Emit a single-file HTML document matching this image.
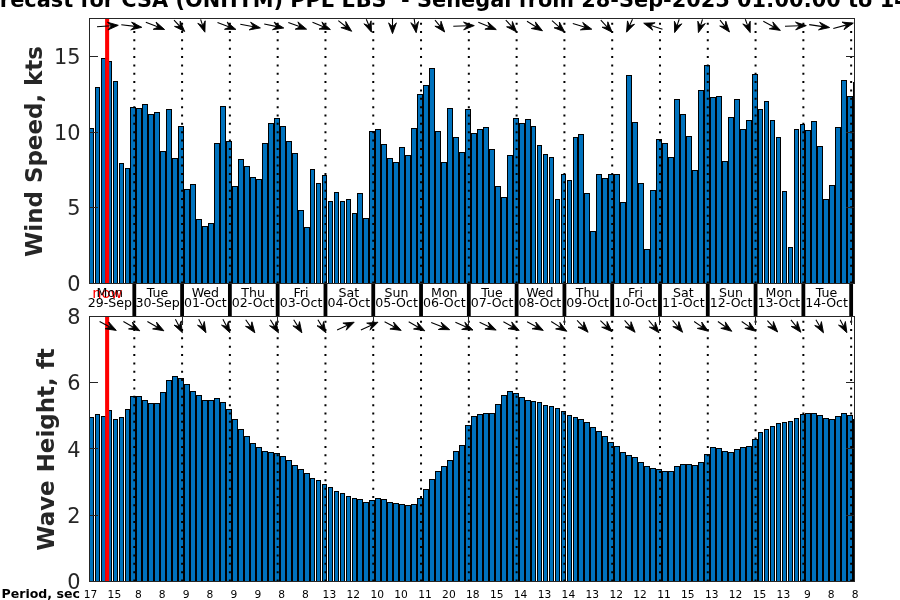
<!DOCTYPE html>
<html><head><meta charset="utf-8"><title>Forecast</title>
<style>html,body{margin:0;padding:0;background:#fff;overflow:hidden}svg{display:block}text{font-family:"DejaVu Sans","Liberation Sans",sans-serif}</style>
</head><body>
<svg width="900" height="600" viewBox="0 0 900 600">
<rect x="0" y="0" width="900" height="600" fill="#fff"/>
<defs><clipPath id="c1"><rect x="89" y="18" width="766" height="266"/></clipPath><clipPath id="c2"><rect x="89" y="316" width="766" height="266"/></clipPath></defs>
<text id="title" x="-27.9" y="6.9" font-size="20.87" font-weight="bold" fill="#000" style="white-space:pre">Forecast for CSA (ONHYM) PPL EBS  - Senegal from 28-Sep-2025 01:00:00 to 14-Oct-2025 01:00:00</text>
<g shape-rendering="crispEdges" clip-path="url(#c1)">
<path fill="#000" d="M89 128h5v155h-5zM95 87h5v196h-5zM101 58h5v225h-5zM107 61h5v222h-5zM113 81h5v202h-5zM119 163h5v120h-5zM125 168h5v115h-5zM130 107h6v176h-6zM136 108h6v175h-6zM142 104h6v179h-6zM148 114h6v169h-6zM154 112h6v171h-6zM160 151h6v132h-6zM166 109h6v174h-6zM172 158h6v125h-6zM178 126h6v157h-6zM184 189h6v94h-6zM190 184h6v99h-6zM196 219h6v64h-6zM202 226h6v57h-6zM208 223h6v60h-6zM214 143h6v140h-6zM220 106h6v177h-6zM226 141h6v142h-6zM232 186h6v97h-6zM238 159h6v124h-6zM244 166h6v117h-6zM250 177h6v106h-6zM256 179h6v104h-6zM262 143h6v140h-6zM268 123h6v160h-6zM274 118h6v165h-6zM280 126h6v157h-6zM286 141h6v142h-6zM292 153h6v130h-6zM298 210h6v73h-6zM304 227h6v56h-6zM310 169h5v114h-5zM316 183h5v100h-5zM322 175h5v108h-5zM328 201h5v82h-5zM334 192h5v91h-5zM340 201h5v82h-5zM346 199h5v84h-5zM352 213h5v70h-5zM357 193h6v90h-6zM363 218h6v65h-6zM369 131h6v152h-6zM375 129h6v154h-6zM381 144h6v139h-6zM387 158h6v125h-6zM393 162h6v121h-6zM399 147h6v136h-6zM405 155h6v128h-6zM411 128h6v155h-6zM417 94h6v189h-6zM423 85h6v198h-6zM429 68h6v215h-6zM435 131h6v152h-6zM441 162h6v121h-6zM447 108h6v175h-6zM453 137h6v146h-6zM459 152h6v131h-6zM465 109h6v174h-6zM471 133h6v150h-6zM477 129h6v154h-6zM483 127h6v156h-6zM489 149h6v134h-6zM495 186h6v97h-6zM501 197h6v86h-6zM507 155h6v128h-6zM513 118h6v165h-6zM519 123h6v160h-6zM525 119h6v164h-6zM531 126h5v157h-5zM537 145h5v138h-5zM543 154h5v129h-5zM549 157h5v126h-5zM555 199h5v84h-5zM561 174h5v109h-5zM567 180h5v103h-5zM573 137h5v146h-5zM578 134h6v149h-6zM584 193h6v90h-6zM590 231h6v52h-6zM596 174h6v109h-6zM602 178h6v105h-6zM608 174h6v109h-6zM614 174h6v109h-6zM620 202h6v81h-6zM626 75h6v208h-6zM632 122h6v161h-6zM638 183h6v100h-6zM644 249h6v34h-6zM650 190h6v93h-6zM656 139h6v144h-6zM662 143h6v140h-6zM668 157h6v126h-6zM674 99h6v184h-6zM680 114h6v169h-6zM686 136h6v147h-6zM692 170h6v113h-6zM698 90h6v193h-6zM704 65h6v218h-6zM710 97h6v186h-6zM716 96h6v187h-6zM722 161h6v122h-6zM728 117h6v166h-6zM734 99h6v184h-6zM740 129h6v154h-6zM746 120h6v163h-6zM752 74h6v209h-6zM758 109h5v174h-5zM764 101h5v182h-5zM770 120h5v163h-5zM776 137h5v146h-5zM782 191h5v92h-5zM788 247h5v36h-5zM794 129h5v154h-5zM800 124h5v159h-5zM805 130h6v153h-6zM811 121h6v162h-6zM817 146h6v137h-6zM823 199h6v84h-6zM829 185h6v98h-6zM835 127h6v156h-6zM841 80h6v203h-6zM847 96h6v187h-6zM853 82h6v201h-6z"/>
<path fill="#0072bd" d="M90 129h3v154h-3zM96 88h3v195h-3zM102 59h3v224h-3zM108 62h3v221h-3zM114 82h3v201h-3zM120 164h3v119h-3zM126 169h3v114h-3zM131 108h4v175h-4zM137 109h4v174h-4zM143 105h4v178h-4zM149 115h4v168h-4zM155 113h4v170h-4zM161 152h4v131h-4zM167 110h4v173h-4zM173 159h4v124h-4zM179 127h4v156h-4zM185 190h4v93h-4zM191 185h4v98h-4zM197 220h4v63h-4zM203 227h4v56h-4zM209 224h4v59h-4zM215 144h4v139h-4zM221 107h4v176h-4zM227 142h4v141h-4zM233 187h4v96h-4zM239 160h4v123h-4zM245 167h4v116h-4zM251 178h4v105h-4zM257 180h4v103h-4zM263 144h4v139h-4zM269 124h4v159h-4zM275 119h4v164h-4zM281 127h4v156h-4zM287 142h4v141h-4zM293 154h4v129h-4zM299 211h4v72h-4zM305 228h4v55h-4zM311 170h3v113h-3zM317 184h3v99h-3zM323 176h3v107h-3zM329 202h3v81h-3zM335 193h3v90h-3zM341 202h3v81h-3zM347 200h3v83h-3zM353 214h3v69h-3zM358 194h4v89h-4zM364 219h4v64h-4zM370 132h4v151h-4zM376 130h4v153h-4zM382 145h4v138h-4zM388 159h4v124h-4zM394 163h4v120h-4zM400 148h4v135h-4zM406 156h4v127h-4zM412 129h4v154h-4zM418 95h4v188h-4zM424 86h4v197h-4zM430 69h4v214h-4zM436 132h4v151h-4zM442 163h4v120h-4zM448 109h4v174h-4zM454 138h4v145h-4zM460 153h4v130h-4zM466 110h4v173h-4zM472 134h4v149h-4zM478 130h4v153h-4zM484 128h4v155h-4zM490 150h4v133h-4zM496 187h4v96h-4zM502 198h4v85h-4zM508 156h4v127h-4zM514 119h4v164h-4zM520 124h4v159h-4zM526 120h4v163h-4zM532 127h3v156h-3zM538 146h3v137h-3zM544 155h3v128h-3zM550 158h3v125h-3zM556 200h3v83h-3zM562 175h3v108h-3zM568 181h3v102h-3zM574 138h3v145h-3zM579 135h4v148h-4zM585 194h4v89h-4zM591 232h4v51h-4zM597 175h4v108h-4zM603 179h4v104h-4zM609 175h4v108h-4zM615 175h4v108h-4zM621 203h4v80h-4zM627 76h4v207h-4zM633 123h4v160h-4zM639 184h4v99h-4zM645 250h4v33h-4zM651 191h4v92h-4zM657 140h4v143h-4zM663 144h4v139h-4zM669 158h4v125h-4zM675 100h4v183h-4zM681 115h4v168h-4zM687 137h4v146h-4zM693 171h4v112h-4zM699 91h4v192h-4zM705 66h4v217h-4zM711 98h4v185h-4zM717 97h4v186h-4zM723 162h4v121h-4zM729 118h4v165h-4zM735 100h4v183h-4zM741 130h4v153h-4zM747 121h4v162h-4zM753 75h4v208h-4zM759 110h3v173h-3zM765 102h3v181h-3zM771 121h3v162h-3zM777 138h3v145h-3zM783 192h3v91h-3zM789 248h3v35h-3zM795 130h3v153h-3zM801 125h3v158h-3zM806 131h4v152h-4zM812 122h4v161h-4zM818 147h4v136h-4zM824 200h4v83h-4zM830 186h4v97h-4zM836 128h4v155h-4zM842 81h4v202h-4zM848 97h4v186h-4zM854 83h4v200h-4z"/>
</g>
<g stroke="#000" stroke-width="2" stroke-dasharray="2 6.35" fill="none">
<path d="M134.30 22.65V283M182.09 22.65V283M229.88 22.65V283M277.67 22.65V283M325.46 22.65V283M373.25 22.65V283M421.04 22.65V283M468.83 22.65V283M516.62 22.65V283M564.41 22.65V283M612.20 22.65V283M659.99 22.65V283M707.78 22.65V283M755.57 22.65V283M803.36 22.65V283M851.15 22.65V283"/>
</g>
<rect x="105.1" y="18" width="4.05" height="265" fill="#f00"/>
<g shape-rendering="crispEdges" fill="#262626">
<rect x="89" y="18" width="766" height="1"/>
<rect x="89" y="283" width="766" height="1"/>
<rect x="89" y="18" width="1" height="266"/>
<rect x="854" y="18" width="1" height="266"/>
<rect x="90" y="56" width="8" height="1"/>
<rect x="846" y="56" width="8" height="1"/>
<rect x="90" y="132" width="8" height="1"/>
<rect x="846" y="132" width="8" height="1"/>
<rect x="90" y="207" width="8" height="1"/>
<rect x="846" y="207" width="8" height="1"/>
</g>
<g clip-path="url(#c1)" fill="#000" stroke="#000">
<path d="M97.0 26.8L111.4 25.8M121.3 24.8L135.0 26.4M145.8 22.3L158.2 27.0M174.0 20.2L180.0 26.5M200.6 19.4L202.7 25.7M217.5 22.6L229.4 27.0M240.3 24.3L253.6 26.7M264.2 24.0L277.0 26.6M288.3 22.6L300.1 26.8M312.5 22.3L324.0 26.9M338.3 20.6L346.3 27.0M366.3 19.3L369.0 25.8M392.5 18.0L392.5 26.7M414.2 19.0L415.2 25.9M435.0 20.1L440.4 26.7M453.3 26.3L467.4 25.8M478.3 22.3L489.9 27.0M505.8 20.1L512.1 26.9M527.0 21.3L536.6 27.2M552.0 20.6L559.6 27.4M572.8 23.5L585.2 27.2M600.8 20.1L607.5 27.3M632.5 19.3L629.4 26.0M662.5 29.3L650.2 25.3M679.2 19.3L676.9 26.1M702.5 19.3L700.4 26.0M720.0 20.1L725.2 26.6M745.3 19.3L747.8 26.1M763.3 21.3L774.4 27.2M785.0 26.3L799.4 25.8M809.2 24.6L822.8 26.6M833.3 28.5L846.7 24.9" stroke-width="1.1" fill="none"/>
<path d="M118.3 25.3L107.9 30.0L111.4 25.8L107.4 22.2zM141.8 27.3L130.7 29.9L135.0 26.4L131.6 22.1zM164.6 29.5L153.2 29.3L158.2 27.0L156.0 22.0zM184.7 31.5L174.5 26.4L180.0 26.5L180.2 21.1zM204.9 32.2L197.8 23.3L202.7 25.7L205.2 20.8zM235.9 29.4L224.5 29.3L229.4 27.0L227.2 22.0zM260.4 27.9L249.2 29.9L253.6 26.7L250.6 22.2zM283.8 28.0L272.5 29.7L277.0 26.6L274.1 22.1zM306.6 29.2L295.2 29.2L300.1 26.8L297.9 21.9zM330.4 29.5L319.0 29.1L324.0 26.9L321.9 21.9zM351.7 31.3L340.9 27.6L346.3 27.0L345.7 21.5zM371.5 32.2L363.9 23.8L369.0 25.8L371.1 20.8zM392.5 33.6L388.6 22.9L392.5 26.7L396.4 22.9zM416.2 32.7L410.8 22.7L415.2 25.9L418.5 21.5zM444.7 32.0L434.9 26.2L440.4 26.7L441.0 21.2zM474.3 25.6L463.7 29.9L467.4 25.8L463.5 22.1zM496.3 29.6L484.9 29.2L489.9 27.0L487.9 22.0zM516.7 32.0L506.6 26.8L512.1 26.9L512.4 21.5zM542.5 30.8L531.3 28.5L536.6 27.2L535.4 21.9zM564.7 32.0L554.1 27.8L559.6 27.4L559.4 22.0zM591.8 29.2L580.4 29.9L585.2 27.2L582.7 22.4zM612.2 32.3L602.1 27.2L607.5 27.3L607.8 21.8zM626.5 32.2L627.5 20.9L629.4 26.0L634.5 24.2zM643.7 23.2L655.1 22.8L650.2 25.3L652.7 30.2zM674.6 32.6L674.4 21.2L676.9 26.1L681.8 23.8zM698.4 32.6L697.8 21.2L700.4 26.0L705.3 23.5zM729.5 32.0L719.7 26.0L725.2 26.6L725.8 21.2zM750.2 32.6L742.8 23.9L747.8 26.1L750.2 21.2zM780.4 30.4L769.2 28.8L774.4 27.2L772.8 21.9zM806.3 25.6L795.7 29.9L799.4 25.8L795.5 22.1zM829.6 27.5L818.5 29.9L822.8 26.6L819.6 22.2zM853.3 23.1L844.0 29.7L846.7 24.9L842.0 22.1z" stroke-width="0.9" stroke-linejoin="round"/>
</g>
<g shape-rendering="crispEdges" clip-path="url(#c2)">
<path fill="#000" d="M89 417h5v164h-5zM95 414h5v167h-5zM101 416h5v165h-5zM107 410h5v171h-5zM113 419h5v162h-5zM119 417h5v164h-5zM125 409h5v172h-5zM130 396h6v185h-6zM136 396h6v185h-6zM142 400h6v181h-6zM148 403h6v178h-6zM154 403h6v178h-6zM160 392h6v189h-6zM166 380h6v201h-6zM172 376h6v205h-6zM178 378h6v203h-6zM184 384h6v197h-6zM190 391h6v190h-6zM196 395h6v186h-6zM202 400h6v181h-6zM208 400h6v181h-6zM214 398h6v183h-6zM220 402h6v179h-6zM226 409h6v172h-6zM232 419h6v162h-6zM238 429h6v152h-6zM244 436h6v145h-6zM250 443h6v138h-6zM256 447h6v134h-6zM262 451h6v130h-6zM268 452h6v129h-6zM274 453h6v128h-6zM280 456h6v125h-6zM286 460h6v121h-6zM292 465h6v116h-6zM298 469h6v112h-6zM304 473h6v108h-6zM310 478h5v103h-5zM316 480h5v101h-5zM322 484h5v97h-5zM328 487h5v94h-5zM334 491h5v90h-5zM340 493h5v88h-5zM346 496h5v85h-5zM352 498h5v83h-5zM357 499h6v82h-6zM363 502h6v79h-6zM369 500h6v81h-6zM375 498h6v83h-6zM381 499h6v82h-6zM387 502h6v79h-6zM393 503h6v78h-6zM399 504h6v77h-6zM405 505h6v76h-6zM411 504h6v77h-6zM417 498h6v83h-6zM423 489h6v92h-6zM429 479h6v102h-6zM435 471h6v110h-6zM441 466h6v115h-6zM447 460h6v121h-6zM453 451h6v130h-6zM459 445h6v136h-6zM465 425h6v156h-6zM471 416h6v165h-6zM477 414h6v167h-6zM483 413h6v168h-6zM489 413h6v168h-6zM495 404h6v177h-6zM501 395h6v186h-6zM507 391h6v190h-6zM513 393h6v188h-6zM519 397h6v184h-6zM525 400h6v181h-6zM531 401h5v180h-5zM537 402h5v179h-5zM543 405h5v176h-5zM549 406h5v175h-5zM555 408h5v173h-5zM561 411h5v170h-5zM567 415h5v166h-5zM573 417h5v164h-5zM578 419h6v162h-6zM584 422h6v159h-6zM590 427h6v154h-6zM596 431h6v150h-6zM602 436h6v145h-6zM608 442h6v139h-6zM614 446h6v135h-6zM620 452h6v129h-6zM626 455h6v126h-6zM632 457h6v124h-6zM638 462h6v119h-6zM644 466h6v115h-6zM650 468h6v113h-6zM656 469h6v112h-6zM662 471h6v110h-6zM668 471h6v110h-6zM674 466h6v115h-6zM680 464h6v117h-6zM686 464h6v117h-6zM692 465h6v116h-6zM698 462h6v119h-6zM704 454h6v127h-6zM710 447h6v134h-6zM716 448h6v133h-6zM722 451h6v130h-6zM728 452h6v129h-6zM734 449h6v132h-6zM740 447h6v134h-6zM746 446h6v135h-6zM752 439h6v142h-6zM758 432h5v149h-5zM764 429h5v152h-5zM770 426h5v155h-5zM776 423h5v158h-5zM782 422h5v159h-5zM788 421h5v160h-5zM794 418h5v163h-5zM800 414h5v167h-5zM805 413h6v168h-6zM811 413h6v168h-6zM817 415h6v166h-6zM823 418h6v163h-6zM829 419h6v162h-6zM835 416h6v165h-6zM841 413h6v168h-6zM847 415h6v166h-6zM853 419h6v162h-6z"/>
<path fill="#0072bd" d="M90 418h3v163h-3zM96 415h3v166h-3zM102 417h3v164h-3zM108 411h3v170h-3zM114 420h3v161h-3zM120 418h3v163h-3zM126 410h3v171h-3zM131 397h4v184h-4zM137 397h4v184h-4zM143 401h4v180h-4zM149 404h4v177h-4zM155 404h4v177h-4zM161 393h4v188h-4zM167 381h4v200h-4zM173 377h4v204h-4zM179 379h4v202h-4zM185 385h4v196h-4zM191 392h4v189h-4zM197 396h4v185h-4zM203 401h4v180h-4zM209 401h4v180h-4zM215 399h4v182h-4zM221 403h4v178h-4zM227 410h4v171h-4zM233 420h4v161h-4zM239 430h4v151h-4zM245 437h4v144h-4zM251 444h4v137h-4zM257 448h4v133h-4zM263 452h4v129h-4zM269 453h4v128h-4zM275 454h4v127h-4zM281 457h4v124h-4zM287 461h4v120h-4zM293 466h4v115h-4zM299 470h4v111h-4zM305 474h4v107h-4zM311 479h3v102h-3zM317 481h3v100h-3zM323 485h3v96h-3zM329 488h3v93h-3zM335 492h3v89h-3zM341 494h3v87h-3zM347 497h3v84h-3zM353 499h3v82h-3zM358 500h4v81h-4zM364 503h4v78h-4zM370 501h4v80h-4zM376 499h4v82h-4zM382 500h4v81h-4zM388 503h4v78h-4zM394 504h4v77h-4zM400 505h4v76h-4zM406 506h4v75h-4zM412 505h4v76h-4zM418 499h4v82h-4zM424 490h4v91h-4zM430 480h4v101h-4zM436 472h4v109h-4zM442 467h4v114h-4zM448 461h4v120h-4zM454 452h4v129h-4zM460 446h4v135h-4zM466 426h4v155h-4zM472 417h4v164h-4zM478 415h4v166h-4zM484 414h4v167h-4zM490 414h4v167h-4zM496 405h4v176h-4zM502 396h4v185h-4zM508 392h4v189h-4zM514 394h4v187h-4zM520 398h4v183h-4zM526 401h4v180h-4zM532 402h3v179h-3zM538 403h3v178h-3zM544 406h3v175h-3zM550 407h3v174h-3zM556 409h3v172h-3zM562 412h3v169h-3zM568 416h3v165h-3zM574 418h3v163h-3zM579 420h4v161h-4zM585 423h4v158h-4zM591 428h4v153h-4zM597 432h4v149h-4zM603 437h4v144h-4zM609 443h4v138h-4zM615 447h4v134h-4zM621 453h4v128h-4zM627 456h4v125h-4zM633 458h4v123h-4zM639 463h4v118h-4zM645 467h4v114h-4zM651 469h4v112h-4zM657 470h4v111h-4zM663 472h4v109h-4zM669 472h4v109h-4zM675 467h4v114h-4zM681 465h4v116h-4zM687 465h4v116h-4zM693 466h4v115h-4zM699 463h4v118h-4zM705 455h4v126h-4zM711 448h4v133h-4zM717 449h4v132h-4zM723 452h4v129h-4zM729 453h4v128h-4zM735 450h4v131h-4zM741 448h4v133h-4zM747 447h4v134h-4zM753 440h4v141h-4zM759 433h3v148h-3zM765 430h3v151h-3zM771 427h3v154h-3zM777 424h3v157h-3zM783 423h3v158h-3zM789 422h3v159h-3zM795 419h3v162h-3zM801 415h3v166h-3zM806 414h4v167h-4zM812 414h4v167h-4zM818 416h4v165h-4zM824 419h4v162h-4zM830 420h4v161h-4zM836 417h4v164h-4zM842 414h4v167h-4zM848 416h4v165h-4zM854 420h4v161h-4z"/>
</g>
<g stroke="#000" stroke-width="2" stroke-dasharray="2 6.35" fill="none">
<path d="M134.30 320.65V581M182.09 320.65V581M229.88 320.65V581M277.67 320.65V581M325.46 320.65V581M373.25 320.65V581M421.04 320.65V581M468.83 320.65V581M516.62 320.65V581M564.41 320.65V581M612.20 320.65V581M659.99 320.65V581M707.78 320.65V581M755.57 320.65V581M803.36 320.65V581M851.15 320.65V581"/>
</g>
<rect x="105.1" y="316" width="4.05" height="265" fill="#f00"/>
<g shape-rendering="crispEdges" fill="#262626">
<rect x="89" y="316" width="766" height="1"/>
<rect x="89" y="581" width="766" height="1"/>
<rect x="89" y="316" width="1" height="266"/>
<rect x="854" y="316" width="1" height="266"/>
<rect x="90" y="382" width="8" height="1"/>
<rect x="846" y="382" width="8" height="1"/>
<rect x="90" y="448" width="8" height="1"/>
<rect x="846" y="448" width="8" height="1"/>
<rect x="90" y="515" width="8" height="1"/>
<rect x="846" y="515" width="8" height="1"/>
</g>
<g shape-rendering="crispEdges" fill="#262626">
<rect x="182" y="317" width="1" height="8"/>
<rect x="277" y="317" width="1" height="8"/>
<rect x="373" y="317" width="1" height="8"/>
<rect x="468" y="317" width="1" height="8"/>
<rect x="564" y="317" width="1" height="8"/>
<rect x="659" y="317" width="1" height="8"/>
<rect x="755" y="317" width="1" height="8"/>
<rect x="851" y="317" width="1" height="8"/>
</g>
<g clip-path="url(#c2)" fill="#000" stroke="#000">
<path d="M99.6 321.5L110.3 327.2M123.4 321.5L133.8 327.4M147.4 321.5L157.8 327.4M175.4 319.3L179.2 326.6M198.7 319.3L202.7 326.7M222.9 319.3L226.7 326.6M245.7 319.8L250.9 327.1M270.4 319.8L274.8 326.9M293.7 319.8L298.2 326.9M317.9 319.8L322.3 326.9M337.1 330.1L348.0 325.1M360.9 330.1L371.8 325.1M384.6 321.8L395.1 327.2M408.7 321.8L418.7 327.4M431.2 322.6L443.3 327.2M455.4 322.3L466.7 327.3M479.6 322.3L490.0 327.2M503.4 321.8L513.2 327.1M527.1 321.8L537.3 327.2M551.2 321.5L560.9 327.6M577.1 320.3L583.5 327.2M600.4 320.6L607.1 327.0M624.6 320.3L630.6 327.1M648.7 320.3L654.7 327.5M672.6 320.3L678.2 327.0M694.1 321.5L702.7 327.4M717.9 321.5L726.1 327.3M741.7 321.5L750.2 327.4M767.4 320.6L773.1 326.9M790.9 319.8L796.6 326.9M815.9 319.8L820.0 326.8M840.1 319.8L843.7 326.6" stroke-width="1.1" fill="none"/>
<path d="M116.3 330.4L105.1 328.8L110.3 327.2L108.7 321.9zM139.8 330.8L128.5 328.9L133.8 327.4L132.4 322.1zM163.9 330.8L152.6 328.9L157.8 327.4L156.5 322.1zM182.4 332.7L174.0 325.1L179.2 326.6L180.9 321.5zM206.0 332.7L197.5 325.2L202.7 326.7L204.3 321.5zM229.9 332.7L221.5 325.1L226.7 326.6L228.4 321.5zM254.9 332.8L245.5 326.3L250.9 327.1L251.9 321.8zM278.5 332.8L269.5 325.7L274.8 326.9L276.1 321.6zM301.9 332.8L292.9 325.8L298.2 326.9L299.5 321.6zM326.0 332.8L317.0 325.7L322.3 326.9L323.6 321.6zM354.2 322.2L346.2 330.2L348.0 325.1L342.9 323.1zM378.0 322.2L370.0 330.2L371.8 325.1L366.7 323.1zM401.2 330.4L389.9 329.0L395.1 327.2L393.5 322.0zM424.8 330.8L413.5 329.0L418.7 327.4L417.3 322.2zM449.7 329.7L438.3 329.5L443.3 327.2L441.1 322.2zM473.0 330.1L461.7 329.4L466.7 327.3L464.8 322.2zM496.2 330.1L484.9 329.1L490.0 327.2L488.2 322.0zM519.2 330.4L508.0 328.7L513.2 327.1L511.7 321.9zM543.3 330.4L532.1 328.8L537.3 327.2L535.7 322.0zM566.8 331.3L555.6 328.9L560.9 327.6L559.8 322.3zM588.1 332.3L578.0 327.1L583.5 327.2L583.8 321.8zM612.1 331.7L601.7 327.2L607.1 327.0L607.0 321.5zM635.1 332.3L625.1 326.8L630.6 327.1L631.0 321.7zM659.1 332.8L649.3 327.1L654.7 327.5L655.3 322.1zM682.6 332.3L672.8 326.6L678.2 327.0L678.8 321.6zM708.4 331.3L697.3 328.4L702.7 327.4L701.7 322.0zM731.8 331.3L720.8 328.3L726.1 327.3L725.3 321.9zM755.9 331.3L744.8 328.4L750.2 327.4L749.3 322.0zM777.7 332.0L767.7 326.7L773.1 326.9L773.4 321.5zM800.9 332.3L791.2 326.4L796.6 326.9L797.3 321.5zM823.5 332.8L814.7 325.5L820.0 326.8L821.4 321.6zM846.9 332.7L838.5 325.1L843.7 326.6L845.4 321.5z" stroke-width="0.9" stroke-linejoin="round"/>
</g>
<g fill="#000">
<rect x="132.40" y="284" width="3.8" height="32"/>
<rect x="180.19" y="284" width="3.8" height="32"/>
<rect x="227.98" y="284" width="3.8" height="32"/>
<rect x="275.77" y="284" width="3.8" height="32"/>
<rect x="323.56" y="284" width="3.8" height="32"/>
<rect x="371.35" y="284" width="3.8" height="32"/>
<rect x="419.14" y="284" width="3.8" height="32"/>
<rect x="466.93" y="284" width="3.8" height="32"/>
<rect x="514.72" y="284" width="3.8" height="32"/>
<rect x="562.51" y="284" width="3.8" height="32"/>
<rect x="610.30" y="284" width="3.8" height="32"/>
<rect x="658.09" y="284" width="3.8" height="32"/>
<rect x="705.88" y="284" width="3.8" height="32"/>
<rect x="753.67" y="284" width="3.8" height="32"/>
<rect x="801.46" y="284" width="3.8" height="32"/>
<rect x="849.25" y="284" width="3.8" height="32"/>
</g>
<text x="107.3" y="297.7" font-size="14.67" text-anchor="middle" fill="#f00">now</text>
<g font-size="12.6" text-anchor="middle" fill="#000">
<text x="109.8" y="296.5">Mon</text>
<text x="109.8" y="306.7">29-Sep</text>
<text x="157.6" y="296.5">Tue</text>
<text x="157.6" y="306.7">30-Sep</text>
<text x="205.4" y="296.5">Wed</text>
<text x="205.4" y="306.7">01-Oct</text>
<text x="253.2" y="296.5">Thu</text>
<text x="253.2" y="306.7">02-Oct</text>
<text x="301.0" y="296.5">Fri</text>
<text x="301.0" y="306.7">03-Oct</text>
<text x="348.8" y="296.5">Sat</text>
<text x="348.8" y="306.7">04-Oct</text>
<text x="396.5" y="296.5">Sun</text>
<text x="396.5" y="306.7">05-Oct</text>
<text x="444.3" y="296.5">Mon</text>
<text x="444.3" y="306.7">06-Oct</text>
<text x="492.1" y="296.5">Tue</text>
<text x="492.1" y="306.7">07-Oct</text>
<text x="539.9" y="296.5">Wed</text>
<text x="539.9" y="306.7">08-Oct</text>
<text x="587.7" y="296.5">Thu</text>
<text x="587.7" y="306.7">09-Oct</text>
<text x="635.5" y="296.5">Fri</text>
<text x="635.5" y="306.7">10-Oct</text>
<text x="683.3" y="296.5">Sat</text>
<text x="683.3" y="306.7">11-Oct</text>
<text x="731.1" y="296.5">Sun</text>
<text x="731.1" y="306.7">12-Oct</text>
<text x="778.9" y="296.5">Mon</text>
<text x="778.9" y="306.7">13-Oct</text>
<text x="826.6" y="296.5">Tue</text>
<text x="826.6" y="306.7">14-Oct</text>
</g>
<g font-size="20.9" text-anchor="end" fill="#262626">
<text x="80.6" y="63.96">15</text>
<text x="80.6" y="139.67">10</text>
<text x="80.6" y="215.39">5</text>
<text x="80.6" y="291.10">0</text>
<text x="80.6" y="324.10">8</text>
<text x="80.6" y="390.35">6</text>
<text x="80.6" y="456.60">4</text>
<text x="80.6" y="522.85">2</text>
<text x="80.6" y="589.10">0</text>
</g>
<g font-size="22.95" font-weight="bold" text-anchor="middle" fill="#262626">
<text transform="translate(41.7,151.5) rotate(-90)">Wind Speed, kts</text>
<text transform="translate(54.0,449.6) rotate(-90)">Wave Height, ft</text>
</g>
<text x="1.5" y="597.8" font-size="12.55" font-weight="bold" fill="#000">Period, sec</text>
<g font-size="10.67" text-anchor="middle" fill="#000">
<text x="90.5" y="597.8">17</text>
<text x="114.4" y="597.8">15</text>
<text x="138.3" y="597.8">8</text>
<text x="162.2" y="597.8">8</text>
<text x="186.1" y="597.8">9</text>
<text x="210.0" y="597.8">8</text>
<text x="233.9" y="597.8">9</text>
<text x="257.8" y="597.8">9</text>
<text x="281.7" y="597.8">8</text>
<text x="305.5" y="597.8">8</text>
<text x="329.4" y="597.8">13</text>
<text x="353.3" y="597.8">12</text>
<text x="377.2" y="597.8">10</text>
<text x="401.1" y="597.8">10</text>
<text x="425.0" y="597.8">11</text>
<text x="448.9" y="597.8">20</text>
<text x="472.8" y="597.8">18</text>
<text x="496.7" y="597.8">15</text>
<text x="520.6" y="597.8">14</text>
<text x="544.5" y="597.8">13</text>
<text x="568.4" y="597.8">14</text>
<text x="592.3" y="597.8">13</text>
<text x="616.2" y="597.8">12</text>
<text x="640.1" y="597.8">12</text>
<text x="664.0" y="597.8">11</text>
<text x="687.8" y="597.8">15</text>
<text x="711.7" y="597.8">13</text>
<text x="735.6" y="597.8">12</text>
<text x="759.5" y="597.8">15</text>
<text x="783.4" y="597.8">13</text>
<text x="807.3" y="597.8">9</text>
<text x="831.2" y="597.8">8</text>
<text x="855.1" y="597.8">8</text>
</g>
</svg></body></html>
